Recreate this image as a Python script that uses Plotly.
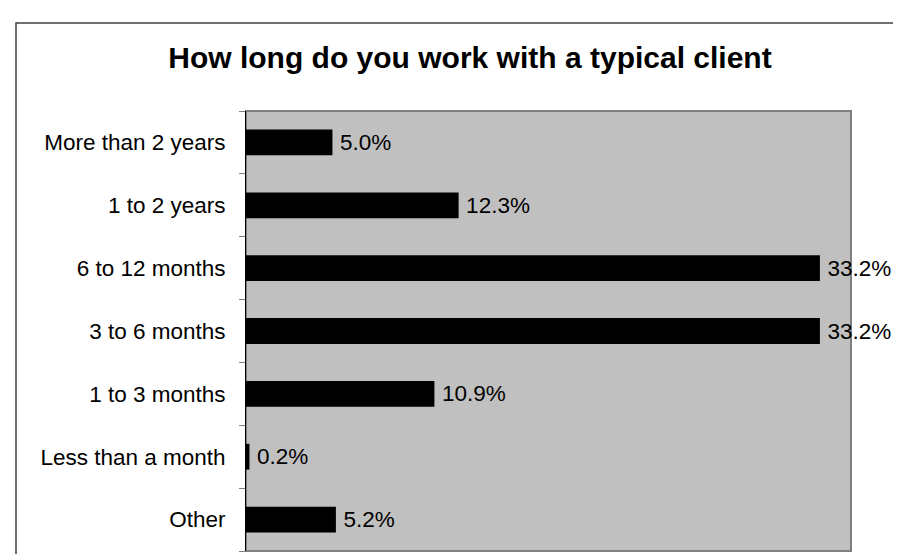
import plotly.graph_objects as go

categories = ["Other", "Less than a month", "1 to 3 months", "3 to 6 months",
              "6 to 12 months", "1 to 2 years", "More than 2 years"]
values = [5.2, 0.2, 10.9, 33.2, 33.2, 12.3, 5.0]
labels = [f"\u2009{v:.1f}%" for v in values]

FONT = "Liberation Sans, Arial, sans-serif"

fig = go.Figure(go.Bar(
    x=values, y=categories, orientation="h",
    marker=dict(color="#000000", line=dict(width=0)),
    width=0.41,
    text=labels, textposition="outside",
    textfont=dict(family=FONT, size=22.5, color="#000000"),
    cliponaxis=False,
))

L, R, T, B = 238, 843, 103, 543
W, H = 901, 554
pw, ph = R - L, B - T

def px(x):
    return (x - L) / pw

def py(y):
    return (B - y) / ph

fig.update_layout(
    width=W, height=H,
    margin=dict(l=L, r=W - R, t=T, b=H - B),
    paper_bgcolor="#FFFFFF",
    plot_bgcolor="#C0C0C0",
    showlegend=False,
    uniformtext=dict(mode=False),
    title=dict(text="<b>How long do you work with a typical client</b>",
               x=462 / W, xanchor="center", y=1 - 49 / H, yanchor="middle",
               yref="container",
               font=dict(family=FONT, size=30, color="#000000")),
    xaxis=dict(range=[0, 35], showticklabels=False, ticks="", showgrid=False,
               zeroline=False, showline=False, fixedrange=True),
    yaxis=dict(type="category", categoryorder="array", categoryarray=categories,
               showgrid=False, zeroline=False, showline=True, linecolor="#000000",
               linewidth=1, ticks="outside", tickson="boundaries", ticklen=6,
               tickcolor="#808080", tickwidth=1,
               tickfont=dict(family=FONT, size=22.5, color="#000000"),
               ticklabelstandoff=15),
    shapes=[
        dict(type="rect", xref="paper", yref="paper", x0=0, x1=1, y0=0, y1=1,
             line=dict(color="#808080", width=2), layer="below"),
        dict(type="rect", xref="paper", yref="paper",
             x0=px(8), x1=px(W + 20), y0=py(H + 20), y1=py(15),
             line=dict(color="#404040", width=1.5), layer="above"),
    ],
)

fig.write_html("out.html")
